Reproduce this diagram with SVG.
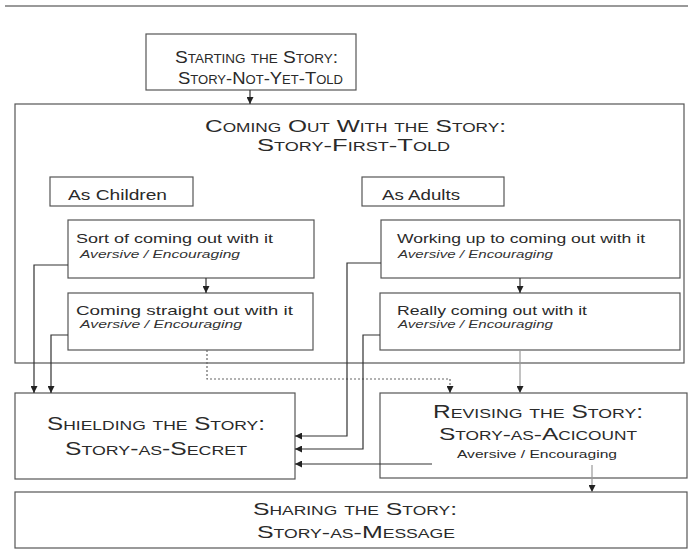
<svg xmlns="http://www.w3.org/2000/svg" width="688" height="550" viewBox="0 0 688 550">
<defs>
<style>
.box{fill:#fff;stroke:#555;stroke-width:1.2}
.sc{font-family:"Liberation Sans",Arial,sans-serif;font-variant:small-caps;fill:#2a2a2a;text-anchor:start}
.t{font-family:"Liberation Sans",Arial,sans-serif;fill:#2a2a2a}
.it{font-family:"Liberation Sans",Arial,sans-serif;font-style:italic;fill:#333;font-size:10px}
.ln{fill:none;stroke:#333;stroke-width:1.2}
.lg{fill:none;stroke:#999;stroke-width:1.2}
.dt{fill:none;stroke:#666;stroke-width:1.2;stroke-dasharray:2 2}
</style>
<marker id="ah" viewBox="0 0 10 10" refX="10" refY="5" markerWidth="7" markerHeight="7" markerUnits="userSpaceOnUse" orient="auto">
<path d="M0,0 L10,5 L0,10 Z" fill="#222"/>
</marker>
</defs>
<rect width="688" height="550" fill="#fff"/>
<line x1="5" y1="6" x2="688" y2="6" stroke="#777" stroke-width="1.5"/>

<g id="starting">
<rect class="box" x="146" y="34" width="210" height="56"/>
<text class="sc" x="175" y="63" font-size="17" textLength="163" lengthAdjust="spacingAndGlyphs">Starting the Story:</text>
<text class="sc" x="178" y="84" font-size="17" textLength="165" lengthAdjust="spacingAndGlyphs">Story-Not-Yet-Told</text>
</g>

<g id="coming-out">
<rect class="box" x="15" y="104" width="669" height="259"/>
<text class="sc" x="205" y="132" font-size="17" textLength="301" lengthAdjust="spacingAndGlyphs">Coming Out With the Story:</text>
<text class="sc" x="257" y="151" font-size="17" textLength="193" lengthAdjust="spacingAndGlyphs">Story-First-Told</text>
</g>

<g id="as-children">
<rect class="box" x="50" y="177" width="143" height="29"/>
<text class="t" x="68" y="200" font-size="14" textLength="99" lengthAdjust="spacingAndGlyphs">As Children</text>
</g>

<g id="as-adults">
<rect class="box" x="362" y="177" width="142" height="29"/>
<text class="t" x="382" y="200" font-size="14" textLength="78" lengthAdjust="spacingAndGlyphs">As Adults</text>
</g>

<g id="sort-of">
<rect class="box" x="68" y="220" width="246" height="58"/>
<text class="t" x="76" y="243" font-size="13" textLength="197" lengthAdjust="spacingAndGlyphs">Sort of coming out with it</text>
<text class="it" x="80" y="258" textLength="160" lengthAdjust="spacingAndGlyphs">Aversive / Encouraging</text>
</g>

<g id="coming-straight">
<rect class="box" x="68" y="293" width="245" height="57"/>
<text class="t" x="76" y="315" font-size="13" textLength="217" lengthAdjust="spacingAndGlyphs">Coming straight out with it</text>
<text class="it" x="80" y="328" textLength="162" lengthAdjust="spacingAndGlyphs">Aversive / Encouraging</text>
</g>

<g id="working-up">
<rect class="box" x="381" y="220" width="299" height="58"/>
<text class="t" x="397" y="243" font-size="13" textLength="248" lengthAdjust="spacingAndGlyphs">Working up to coming out with it</text>
<text class="it" x="398" y="258" textLength="155" lengthAdjust="spacingAndGlyphs">Aversive / Encouraging</text>
</g>

<g id="really">
<rect class="box" x="380" y="293" width="300" height="57"/>
<text class="t" x="397" y="315" font-size="13" textLength="190" lengthAdjust="spacingAndGlyphs">Really coming out with it</text>
<text class="it" x="398" y="328" textLength="155" lengthAdjust="spacingAndGlyphs">Aversive / Encouraging</text>
</g>

<g id="shielding">
<rect class="box" x="15" y="393" width="280" height="86"/>
<text class="sc" x="47" y="430" font-size="18" textLength="218" lengthAdjust="spacingAndGlyphs">Shielding the Story:</text>
<text class="sc" x="65" y="455" font-size="18" textLength="182" lengthAdjust="spacingAndGlyphs">Story-as-Secret</text>
</g>

<g id="revising">
<rect class="box" x="380" y="393" width="307" height="85"/>
<text class="sc" x="433" y="418" font-size="18" textLength="210" lengthAdjust="spacingAndGlyphs">Revising the Story:</text>
<text class="sc" x="439" y="440" font-size="17" textLength="198" lengthAdjust="spacingAndGlyphs">Story-as-Acicount</text>
<text class="t" x="457" y="458" font-size="11" textLength="160" lengthAdjust="spacingAndGlyphs">Aversive / Encouraging</text>
</g>

<g id="sharing">
<rect class="box" x="15" y="492" width="672" height="56"/>
<text class="sc" x="253" y="515" font-size="17" textLength="204" lengthAdjust="spacingAndGlyphs">Sharing the Story:</text>
<text class="sc" x="257" y="538" font-size="17" textLength="198" lengthAdjust="spacingAndGlyphs">Story-as-Message</text>
</g>

<g id="connectors">
<path class="ln" d="M250,90 V104" marker-end="url(#ah)"/>
<path class="ln" d="M206,278 V293" marker-end="url(#ah)"/>
<path class="ln" d="M520,278 V293" marker-end="url(#ah)"/>
<path class="ln" d="M68,265 H34 V393" marker-end="url(#ah)"/>
<path class="ln" d="M68,335 H51 V393" marker-end="url(#ah)"/>
<path class="dt" d="M207,350 V379 H450 V393" marker-end="url(#ah)"/>
<path class="lg" d="M520,350 V393" marker-end="url(#ah)"/>
<path class="ln" d="M381,263 H347 V436 H295" marker-end="url(#ah)"/>
<path class="ln" d="M380,335 H363 V449 H295" marker-end="url(#ah)"/>
<path class="ln" d="M432,464 H295" marker-end="url(#ah)"/>
<path class="lg" d="M592,465 V492" marker-end="url(#ah)"/>
</g>
</svg>
